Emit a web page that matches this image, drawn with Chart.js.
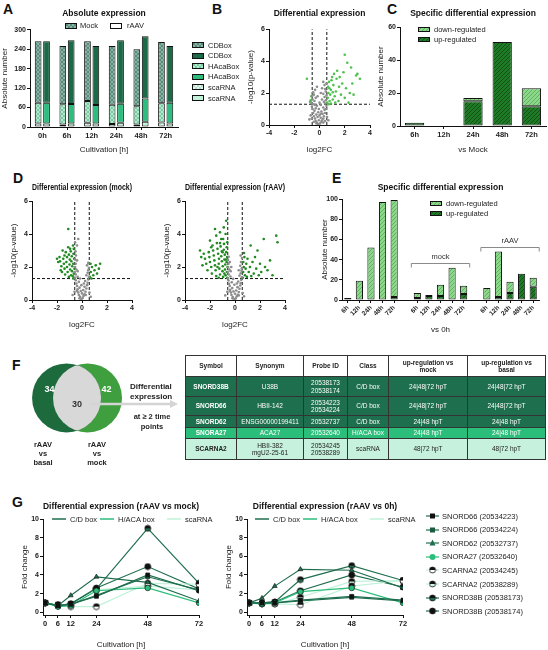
<!DOCTYPE html>
<html>
<head>
<meta charset="utf-8">
<script src="https://cdn.jsdelivr.net/npm/chart.js@4.4.1/dist/chart.umd.min.js"></script>
<style>
body{margin:0;background:#fff;font-family:"Liberation Sans",Arial,sans-serif;color:#222}
#fig{position:relative;width:548px;height:650px;overflow:hidden}
.t{position:absolute;white-space:nowrap;line-height:1}
.L{position:absolute;font-weight:bold;font-size:14px;line-height:1;color:#111}
.s7{font-size:7.5px}
.b8{font-size:8px;font-weight:bold}
canvas{position:absolute}
table{position:absolute;border-collapse:collapse;table-layout:fixed;font-size:6.5px;text-align:center}
td,th{border:1px solid #333;padding:0;line-height:1.15}
th{background:#fff;font-weight:bold;color:#222}
tr.dk td{background:#1d6f4d;color:#fff}
tr.md td{background:#2bbd7a;color:#fff}
tr.lt td{background:#c6f2dd;color:#222}
td:first-child{font-weight:bold}
</style>
</head>
<body>
<div id="fig"></div>
<script>
// ---------- data ----------
const A_TIMES = ['0h', '6h', '12h', '24h', '48h', '72h'];
const A_MOCK_SCA = [11, 8, 13, 9, 8, 14];
const A_MOCK_HACA = [64, 62, 67, 60, 56, 59];
const A_MOCK_CD = [190, 180, 185, 181, 176, 189];
const A_RAAV_SCA = [11, 11, 11, 13, 16, 11];
const A_RAAV_HACA = [64, 60, 57, 59, 72, 64];
const A_RAAV_CD = [190, 197, 182, 196, 192, 175];

const FC_CUT = 0.58;   // log2(1.5)
const P_CUT = 1.3;     // -log10(0.05)

const B_GREY = [[-0.1,0.05],[0.05,0.1],[-0.2,0.15],[0.15,0.2],[-0.3,0.25],[0.2,0.3],[-0.05,0.3],[-0.35,0.4],[0.3,0.4],[0.1,0.45],[-0.15,0.5],[-0.45,0.55],[0.35,0.55],[0.0,0.6],[-0.25,0.65],[0.25,0.7],[-0.5,0.75],[0.45,0.75],[-0.1,0.8],[0.15,0.85],[-0.4,0.9],[0.4,0.95],[-0.55,1.0],[0.5,1.0],[-0.3,1.05],[0.3,1.1],[-0.6,1.15],[0.55,1.2],[-0.2,1.2],[0.1,1.25],[-0.5,1.3],[0.45,1.35],[-0.65,1.4],[0.35,1.45],[-0.4,1.5],[0.5,1.55],[-0.55,1.6],[0.2,1.6],[-0.3,1.7],[0.4,1.75],[-0.6,1.8],[0.55,1.85],[-0.45,1.9],[0.3,1.95],[-0.5,2.05],[0.5,2.1],[-0.35,2.2],[0.45,2.25],[0.2,2.3],[-0.2,2.4],[0.4,2.5],[0.55,2.6],[0.3,2.7],[-0.05,1.0],[0.0,1.4],[-0.15,1.8],[0.1,2.0],[-0.7,0.6],[0.6,0.5],[-0.8,0.35],[0.7,0.3],[-0.25,0.1],[0.3,0.15],[-0.45,0.2],[0.45,0.25],[-0.6,0.4],[0.1,0.7],[-0.35,1.25]];
const B_GREEN = [[-0.62,1.35],[-0.7,1.55],[-0.65,1.8],[-0.75,1.45],[-1.0,2.9],[0.62,1.4],[0.65,1.7],[0.7,2.0],[0.68,2.4],[0.75,2.7],[0.8,1.5],[0.85,1.9],[0.9,2.2],[0.95,2.8],[1.0,3.0],[1.05,1.6],[1.1,2.5],[1.15,3.2],[1.2,1.8],[1.3,2.1],[1.35,2.9],[1.4,3.4],[1.5,1.5],[1.55,2.4],[1.6,3.0],[1.7,1.9],[1.8,2.6],[1.9,3.3],[2.0,4.4],[2.0,1.7],[2.1,2.3],[2.2,3.9],[2.3,1.4],[2.4,2.0],[2.6,2.6],[2.7,1.9],[2.9,3.1],[3.0,3.2],[3.2,2.9],[2.5,3.6],[0.72,1.3],[0.9,1.35],[1.25,1.4],[0.78,2.3],[1.05,2.05]];

const D_MOCK_GREY = [[-0.05,0.05],[0.05,0.12],[-0.15,0.2],[0.12,0.25],[-0.25,0.3],[0.2,0.35],[0.0,0.4],[-0.3,0.45],[0.28,0.5],[-0.1,0.55],[0.1,0.6],[-0.35,0.65],[0.35,0.7],[-0.2,0.75],[0.2,0.8],[-0.4,0.85],[0.4,0.9],[-0.05,0.9],[-0.45,1.0],[0.45,1.05],[-0.25,1.1],[0.25,1.15],[-0.5,1.2],[0.5,1.25],[-0.55,1.35],[0.55,1.4],[-0.35,1.4],[0.35,1.5],[-0.5,1.55],[0.45,1.65],[-0.58,1.7],[0.5,1.8],[-0.45,1.85],[0.55,1.95],[-0.55,2.0],[0.4,2.1],[-0.5,2.2],[-0.55,2.45],[-0.48,2.7],[-0.52,2.95],[-0.4,3.3],[-0.3,3.7],[-0.55,3.5],[0.5,2.25],[-0.6,0.5],[0.6,0.45],[-0.75,0.3],[0.7,0.2],[-0.15,1.3],[0.15,1.0],[-0.35,1.75],[-0.4,2.4],[-0.2,0.1],[0.3,0.3],[-0.4,0.55]];
const D_MOCK_GREEN = [[-0.62,1.35],[-0.65,1.6],[-0.6,1.9],[-0.7,2.2],[-0.63,2.5],[-0.68,2.8],[-0.66,3.1],[-0.75,1.45],[-0.8,1.75],[-0.78,2.05],[-0.85,2.35],[-0.82,2.65],[-0.9,2.95],[-0.88,1.5],[-0.95,1.85],[-1.0,2.15],[-0.98,2.45],[-1.05,2.75],[-1.1,3.2],[-1.05,1.4],[-1.15,1.7],[-1.2,2.0],[-1.25,2.3],[-1.2,2.6],[-1.3,2.9],[-1.35,1.55],[-1.4,1.9],[-1.45,2.2],[-1.5,2.5],[-1.55,3.0],[-1.6,1.7],[-1.65,2.05],[-1.75,2.35],[-1.8,2.6],[-1.9,2.3],[-2.0,2.5],[-1.1,4.3],[-0.72,3.3],[-0.95,3.1],[-1.4,2.7],[-0.7,1.3],[-1.7,1.8],[0.62,1.4],[0.7,1.7],[0.8,2.0],[0.68,2.2],[0.9,1.5],[1.0,1.8],[1.1,2.1],[1.2,1.6],[1.35,1.9],[1.45,2.2],[0.75,1.3]];

const D_RAAV_GREY = [[-0.05,0.05],[0.06,0.1],[-0.18,0.18],[0.14,0.22],[-0.28,0.3],[0.22,0.32],[0.0,0.38],[-0.32,0.45],[0.3,0.48],[-0.12,0.52],[0.1,0.58],[-0.38,0.62],[0.36,0.68],[-0.22,0.72],[0.2,0.78],[-0.42,0.85],[0.42,0.88],[-0.05,0.92],[-0.48,0.98],[0.46,1.02],[-0.26,1.08],[0.26,1.12],[-0.52,1.18],[0.5,1.22],[-0.56,1.32],[0.55,1.38],[-0.36,1.42],[0.36,1.48],[-0.5,1.55],[0.46,1.62],[-0.58,1.7],[0.52,1.78],[-0.46,1.85],[0.55,1.92],[-0.55,2.0],[0.42,2.08],[-0.52,2.2],[-0.56,2.42],[-0.5,2.62],[0.48,2.3],[0.56,2.55],[-0.62,0.5],[0.62,0.42],[-0.78,0.28],[0.72,0.22],[-0.15,1.28],[0.15,1.0],[-0.35,1.75],[-0.42,2.3],[-0.2,0.1],[0.3,0.28],[-0.42,0.55],[0.45,2.7],[-0.3,2.0],[0.3,1.8]];
const D_RAAV_GREEN = [[-0.62,1.35],[-0.65,1.7],[-0.6,2.0],[-0.68,2.3],[-0.63,2.6],[-0.7,2.9],[-0.66,3.2],[-0.62,3.5],[-0.75,1.5],[-0.8,1.85],[-0.78,2.15],[-0.85,2.45],[-0.82,2.75],[-0.9,3.05],[-0.88,3.4],[-0.95,1.4],[-1.0,1.75],[-0.98,2.05],[-1.05,2.35],[-1.1,2.65],[-1.05,2.95],[-1.15,3.25],[-1.1,3.7],[-1.2,1.55],[-1.25,1.9],[-1.3,2.2],[-1.28,2.5],[-1.35,2.8],[-1.4,3.1],[-1.45,3.45],[-1.5,1.45],[-1.55,1.8],[-1.6,2.1],[-1.65,2.4],[-1.7,2.7],[-1.75,3.0],[-1.8,3.3],[-1.85,1.6],[-1.9,2.0],[-2.0,2.3],[-2.05,2.6],[-2.1,2.9],[-2.2,1.8],[-2.3,2.2],[-2.4,2.5],[-2.5,2.8],[-2.7,2.6],[-2.6,2.1],[-1.2,4.1],[-0.9,4.4],[-0.7,4.8],[-1.5,3.9],[-2.0,3.6],[-1.6,4.3],[-0.75,4.0],[-0.95,3.7],[-1.3,1.35],[-1.9,3.2],[-2.8,3.0],[-0.72,2.45],[-0.85,1.6],[-1.4,2.0],[-1.0,2.9],[-1.2,3.45],[0.62,1.35],[0.65,1.7],[0.7,2.0],[0.66,2.3],[0.75,2.6],[0.8,1.5],[0.85,1.9],[0.9,2.2],[0.95,1.4],[1.0,2.5],[1.1,1.7],[1.2,2.0],[1.3,1.45],[1.4,2.3],[1.5,1.6],[1.6,2.6],[1.7,1.9],[1.8,3.0],[1.9,1.5],[2.0,2.2],[2.1,1.7],[2.3,3.7],[2.4,2.0],[2.6,1.8],[2.8,2.4],[3.0,1.5],[3.3,3.9],[3.4,3.5],[1.25,3.3],[0.72,2.85]];

const C_TIMES = ['6h', '12h', '24h', '48h', '72h'];
const C_UP = [2, 0, 15, 51, 12];
const C_DOWN = [0, 0, 2, 0, 11];

const E_LABELS = ['6h','12h','24h','48h','72h','', '6h','12h','24h','48h','72h','', '6h','12h','24h','48h','72h'];
const E_UP =   [2, 0, 0, 0, 3, null, 2, 4, 4, 0, 6, null, 0, 3, 7, 26, 13];
const E_DOWN = [0, 19, 52, 97, 96, null, 5, 1, 11, 32, 8, null, 12, 45, 11, 0, 9];
const E_GROUPS = [{from: 6, to: 10, level: 37, label: 'mock'}, {from: 12, to: 16, level: 52, label: 'rAAV'}];

const VENN_COUNTS = [34, 30, 42];

const G_HOURS = [0, 6, 12, 24, 48, 72];
const G_NAMES = ['SNORD66 (20534223)', 'SNORD66 (20534224)', 'SNORD62 (20532737)', 'SNORA27 (20532640)',
                 'SCARNA2 (20534245)', 'SCARNA2 (20538289)', 'SNORD38B (20538173)', 'SNORD38B (20538174)'];
const G_MOCK = [
  [1, 0.7, 0.9, 1.7, 4.0, 2.3],
  [1, 0.7, 0.8, 1.8, 3.8, 2.4],
  [1, 0.7, 1.8, 3.8, 3.2, 1.2],
  [1, 0.6, 0.7, 2.3, 2.6, 1.0],
  [1, 0.8, 0.6, 0.6, 3.1, 3.0],
  [1, 0.8, 0.7, 2.4, 2.8, 2.4],
  [1, 0.7, 0.9, 2.5, 9.0, 3.1],
  [1, 0.7, 0.9, 2.6, 4.9, 2.5]
];
const G_BASAL = [
  [1, 1.0, 1.0, 1.3, 1.7, 1.3],
  [1, 1.0, 1.0, 1.2, 1.6, 1.2],
  [1, 1.5, 2.8, 4.6, 4.5, 2.6],
  [1, 0.9, 1.0, 2.2, 2.6, 1.0],
  [1, 0.9, 0.9, 0.8, 2.8, 3.4],
  [1, 0.9, 0.9, 1.6, 3.3, 3.4],
  [1, 1.0, 1.1, 3.5, 5.0, 3.4],
  [1, 1.0, 1.1, 2.3, 4.0, 2.7]
];

// ---------- helpers ----------
const FONT = '"Liberation Sans", Arial, sans-serif';
Chart.defaults.font.family = FONT;
Chart.defaults.color = '#222';
const fig = document.getElementById('fig');

function mkCanvas(left, top, w, h) {
  const c = document.createElement('canvas');
  c.width = w; c.height = h;
  c.style.left = left + 'px'; c.style.top = top + 'px';
  c.style.width = w + 'px'; c.style.height = h + 'px';
  fig.appendChild(c);
  return c;
}

function text(x, y, str, cls, extra) {
  const d = document.createElement('div');
  d.className = 't ' + (cls || '');
  d.style.left = x + 'px'; d.style.top = y + 'px';
  if (extra) d.style.cssText += extra;
  d.innerHTML = str;
  fig.appendChild(d);
  return d;
}

function hatch(bg, fg, cross) {
  const c = document.createElement('canvas');
  c.width = 4; c.height = 4;
  const x = c.getContext('2d');
  x.fillStyle = bg; x.fillRect(0, 0, 4, 4);
  x.strokeStyle = fg; x.lineWidth = 0.8;
  x.beginPath(); x.moveTo(0, 4); x.lineTo(4, 0); x.stroke();
  if (cross) { x.beginPath(); x.moveTo(0, 0); x.lineTo(4, 4); x.stroke(); }
  return x.createPattern(c, 'repeat');
}

function swatch(x, y, w, h, fill) {
  const c = mkCanvas(x, y, w, h);
  const ctx = c.getContext('2d');
  ctx.fillStyle = fill; ctx.fillRect(0, 0, w, h);
  ctx.strokeStyle = '#111'; ctx.lineWidth = 1; ctx.strokeRect(0.5, 0.5, w - 1, h - 1);
}

function halfDot(top, bottom) {
  const c = document.createElement('canvas');
  c.width = 8; c.height = 8;
  const x = c.getContext('2d');
  x.fillStyle = bottom; x.beginPath(); x.arc(4, 4, 3, 0, Math.PI); x.fill();
  x.fillStyle = top; x.beginPath(); x.arc(4, 4, 3, Math.PI, 2 * Math.PI); x.fill();
  x.strokeStyle = '#111'; x.lineWidth = 0.8; x.beginPath(); x.arc(4, 4, 3, 0, 2 * Math.PI); x.stroke();
  return c;
}

function axis(o) {
  const a = {
    border: {color: '#111', width: 1},
    grid: {drawOnChartArea: false, color: '#111', tickLength: 3, offset: false},
    ticks: Object.assign({font: {size: 7, weight: 'bold'}, color: '#222', padding: 1}, o.ticks || {}),
    title: o.title ? {display: true, text: o.title, font: {size: 8}, color: '#222', padding: 0} : {display: false}
  };
  ['type', 'min', 'max', 'stacked', 'reverse', 'display'].forEach(k => { if (o[k] !== undefined) a[k] = o[k]; });
  if (o.tickColor) a.grid.tickColor = o.tickColor;
  if (o.w) a.afterFit = s => { s.width = o.w; };
  if (o.h) a.afterFit = s => { s.height = o.h; };
  if (o.values) a.afterBuildTicks = s => { s.ticks = o.values.map(v => ({value: v})); };
  return a;
}

function title(str, pb) {
  return {display: true, text: str, fullSize: false, font: {size: 8.5, weight: 'bold'}, color: '#111', padding: {top: 0, bottom: pb}};
}

function base(pad, ttl) {
  return {
    responsive: false, animation: false, devicePixelRatio: 1,
    layout: {padding: pad},
    plugins: {legend: {display: false}, tooltip: {enabled: false}, title: ttl}
  };
}

const pts = arr => arr.map(p => ({x: p[0], y: p[1]}));

// ---------- panel letters ----------
[['A', 3, 2], ['B', 212, 2], ['C', 387, 2], ['D', 13, 171], ['E', 332, 171], ['F', 12, 358], ['G', 12, 495]]
  .forEach(l => text(l[1], l[2], l[0], 'L'));

// ---------- A ----------
const COL_CD_M = hatch('#86b3a3', '#4f7f6f', true);
const COL_CD_R = '#1b6b48';
const COL_HA_M = hatch('#aeeccd', '#6dbf98', true);
const COL_HA_R = '#2dbd7e';
const COL_SC_M = hatch('#e2f6ec', '#a9d8c1', true);
const COL_SC_R = '#c2f1da';
const barDs = (data, color, stack) => ({data, backgroundColor: color, borderColor: '#111', borderWidth: 1,
  stack, categoryPercentage: 0.68, barPercentage: 0.8, borderSkipped: false});
new Chart(mkCanvas(0, 0, 185, 155), {
  type: 'bar',
  data: {
    labels: A_TIMES,
    datasets: [
      barDs(A_MOCK_SCA, COL_SC_M, 'm'), barDs(A_MOCK_HACA, COL_HA_M, 'm'), barDs(A_MOCK_CD, COL_CD_M, 'm'),
      barDs(A_RAAV_SCA, COL_SC_R, 'r'), barDs(A_RAAV_HACA, COL_HA_R, 'r'), barDs(A_RAAV_CD, COL_CD_R, 'r')
    ]
  },
  options: Object.assign(base({top: 9, left: 0, right: 7, bottom: 0}, title('Absolute expression', 10.6)), {
    scales: {
      x: axis({stacked: true, h: 28, title: 'Cultivation [h]', ticks: {font: {size: 7.5, weight: 'bold'}}}),
      y: axis({stacked: true, min: 0, max: 300, w: 30, title: 'Absolute number', values: [0, 60, 120, 180, 240, 300]})
    }
  })
});
swatch(65, 23, 12, 6, COL_CD_M); text(80, 22, 'Mock', 's7');
swatch(110, 23, 12, 6, '#fff'); text(127, 22, 'rAAV', 's7');
[[COL_CD_M, 'CDBox'], [COL_CD_R, 'CDBox'], [COL_HA_M, 'HAcaBox'], [COL_HA_R, 'HAcaBox'], [COL_SC_M, 'scaRNA'], [COL_SC_R, 'scaRNA']]
  .forEach((e, i) => { const y = 42 + i * 10.6; swatch(192, y, 12, 6, e[0]); text(208, y - 0.5, e[1], 's7'); });

// ---------- volcano helper ----------
function volcano(canvas, grey, green, greenCol, ttl, pad, titlePad) {
  return new Chart(canvas, {
    type: 'scatter',
    data: {
      datasets: [
        {data: pts(grey), pointRadius: 1.3, pointBorderWidth: 0, backgroundColor: '#8d8d8d'},
        {data: pts(green), pointRadius: 1.3, pointBorderWidth: 0, backgroundColor: greenCol},
        {type: 'line', data: [{x: -FC_CUT, y: 0}, {x: -FC_CUT, y: 6}], borderColor: '#111', borderWidth: 1, borderDash: [3, 2], pointRadius: 0},
        {type: 'line', data: [{x: FC_CUT, y: 0}, {x: FC_CUT, y: 6}], borderColor: '#111', borderWidth: 1, borderDash: [3, 2], pointRadius: 0},
        {type: 'line', data: [{x: -4, y: P_CUT}, {x: 4, y: P_CUT}], borderColor: '#111', borderWidth: 1, borderDash: [3, 2], pointRadius: 0}
      ]
    },
    options: Object.assign(base(pad, title(ttl, titlePad)), {
      scales: {
        x: axis({type: 'linear', min: -4, max: 4, h: 30, title: 'log2FC', values: [-4, -2, 0, 2, 4]}),
        y: axis({type: 'linear', min: 0, max: 6, w: 23, title: '-log10(p-value)', values: [0, 2, 4, 6]})
      }
    })
  });
}

// ---------- B ----------
volcano(mkCanvas(190, 0, 185, 155), B_GREY, B_GREEN, '#4fc24f', 'Differential expression', {top: 9, left: 56, right: 5, bottom: 0}, 10);

// ---------- C ----------
const COL_DOWN = hatch('#8bd88b', '#55a855');
const COL_UP = hatch('#1f7a25', '#0d4712');
const stackDs = (data, color) => ({data, backgroundColor: color, borderColor: '#111', borderWidth: 1,
  categoryPercentage: 1, barPercentage: 0.66, borderSkipped: false});
new Chart(mkCanvas(370, 0, 178, 155), {
  type: 'bar',
  data: {labels: C_TIMES, datasets: [stackDs(C_UP, COL_UP), stackDs(C_DOWN, COL_DOWN)]},
  options: Object.assign(base({top: 9, left: 6, right: 2, bottom: 0}, title('Specific differential expression', 8)), {
    scales: {
      x: axis({stacked: true, h: 29, title: 'vs Mock', ticks: {font: {size: 7.5, weight: 'bold'}}}),
      y: axis({stacked: true, min: 0, max: 60, w: 24, title: 'Absolute number', values: [0, 20, 40, 60]})
    }
  })
});
swatch(418, 27, 12, 5, COL_DOWN); text(434, 25.5, 'down-regulated', 's7');
swatch(418, 37, 12, 5, COL_UP); text(434, 35.5, 'up-regulated', 's7');

// ---------- D ----------
volcano(mkCanvas(0, 175, 160, 155), D_MOCK_GREY, D_MOCK_GREEN, '#228a22', 'Differential expression (mock)', {top: 8, left: 9, right: 28, bottom: 0}, 7.8);
volcano(mkCanvas(150, 175, 160, 155), D_RAAV_GREY, D_RAAV_GREEN, '#228a22', 'Differential expression (rAAV)', {top: 8, left: 12, right: 25, bottom: 0}, 7.8);

// ---------- E ----------
const bracketPlugin = {
  id: 'brackets',
  afterDatasetsDraw(chart) {
    const {ctx, scales: {x, y}} = chart;
    ctx.save();
    ctx.strokeStyle = '#8a8a8a'; ctx.lineWidth = 1;
    ctx.fillStyle = '#333'; ctx.font = '7.5px ' + FONT; ctx.textAlign = 'center';
    E_GROUPS.forEach(g => {
      const x0 = x.getPixelForValue(g.from) - 6, x1 = x.getPixelForValue(g.to) + 6, yy = Math.round(y.getPixelForValue(g.level)) + 0.5;
      ctx.beginPath(); ctx.moveTo(x0, yy + 4); ctx.lineTo(x0, yy); ctx.lineTo(x1, yy); ctx.lineTo(x1, yy + 4); ctx.stroke();
      ctx.fillText(g.label, (x0 + x1) / 2, yy - 5);
    });
    ctx.restore();
  }
};
new Chart(mkCanvas(318, 175, 230, 160), {
  type: 'bar',
  data: {labels: E_LABELS, datasets: [
    Object.assign(stackDs(E_UP, COL_UP), {barPercentage: 0.62}),
    Object.assign(stackDs(E_DOWN, COL_DOWN), {barPercentage: 0.62})
  ]},
  options: Object.assign(base({top: 8, left: 2, right: 9, bottom: 0}, title('Specific differential expression', 5.8)), {
    scales: {
      x: axis({stacked: true, h: 35, title: 'vs 0h', tickColor: c => E_LABELS[c.index] ? '#111' : 'rgba(0,0,0,0)',
        ticks: {font: {size: 6.5, weight: 'bold'}, autoSkip: false, maxRotation: 45, minRotation: 45}}),
      y: axis({stacked: true, min: 0, max: 100, w: 22, title: 'Absolute number', values: [0, 20, 40, 60, 80, 100]})
    }
  }),
  plugins: [bracketPlugin]
});
swatch(430, 201, 12, 5, COL_DOWN); text(446, 199.5, 'down-regulated', 's7');
swatch(430, 211, 12, 5, COL_UP); text(446, 209.5, 'up-regulated', 's7');

// ---------- F: Venn ----------
const vennPlugin = {
  id: 'venn',
  afterDatasetsDraw(chart) {
    const ctx = chart.ctx;
    const a = chart.getDatasetMeta(0).data[0], b = chart.getDatasetMeta(1).data[0];
    const r = a.options.radius;
    ctx.save();
    ctx.beginPath(); ctx.arc(a.x, a.y, r, 0, 2 * Math.PI); ctx.clip();
    ctx.beginPath(); ctx.arc(b.x, b.y, r, 0, 2 * Math.PI); ctx.fillStyle = '#d8d8d8'; ctx.fill();
    ctx.restore();
    ctx.save();
    ctx.strokeStyle = '#d4d4d4'; ctx.lineWidth = 2.5; ctx.fillStyle = '#d4d4d4';
    const ay = a.y + 6;
    ctx.beginPath(); ctx.moveTo(b.x + 2, ay); ctx.lineTo(172, ay); ctx.stroke();
    ctx.beginPath(); ctx.moveTo(178, ay); ctx.lineTo(170, ay - 4); ctx.lineTo(170, ay + 4); ctx.closePath(); ctx.fill();
    ctx.font = 'bold 9px ' + FONT; ctx.textAlign = 'center'; ctx.textBaseline = 'middle';
    ctx.fillStyle = '#fff';
    ctx.fillText(VENN_COUNTS[0], a.x - 17, a.y - 8);
    ctx.fillText(VENN_COUNTS[2], b.x + 19, b.y - 8);
    ctx.fillStyle = '#333';
    ctx.fillText(VENN_COUNTS[1], (a.x + b.x) / 2, a.y + 7);
    ctx.restore();
  }
};
new Chart(mkCanvas(0, 355, 180, 85), {
  type: 'bubble',
  data: {datasets: [
    {data: [{x: 52, y: 45, r: 34.5}], backgroundColor: '#1d6b3c', borderWidth: 0, clip: false},
    {data: [{x: 86, y: 45, r: 34.5}], backgroundColor: '#3f9f3f', borderWidth: 0, clip: false}
  ]},
  options: Object.assign(base(0, {display: false}), {
    clip: false,
    scales: {x: {type: 'linear', min: 0, max: 180, display: false}, y: {type: 'linear', min: 0, max: 85, reverse: true, display: false}}
  }),
  plugins: [vennPlugin]
});
text(130, 382, 'Differential<br>expression', 'b8', 'line-height:10px');
text(130, 412, 'at ≥ 2 time<br>points', 'b8', 'font-size:7.5px;line-height:9.5px;text-align:center;width:44px');
text(29, 440, 'rAAV<br>vs<br>basal', 'b8', 'font-size:7.5px;line-height:9px;text-align:center;width:28px');
text(83, 440, 'rAAV<br>vs<br>mock', 'b8', 'font-size:7.5px;line-height:9px;text-align:center;width:28px');

// ---------- F: table ----------
const tbl = document.createElement('table');
tbl.style.left = '185px'; tbl.style.top = '355px'; tbl.style.width = '360px';
tbl.innerHTML = `
<colgroup><col style="width:51px"><col style="width:67px"><col style="width:44px"><col style="width:41px"><col style="width:79px"><col style="width:78px"></colgroup>
<tr style="height:21px"><th>Symbol</th><th>Synonym</th><th>Probe ID</th><th>Class</th><th>up-regulation vs<br>mock</th><th>up-regulation vs<br>basal</th></tr>
<tr class="dk" style="height:20px"><td>SNORD38B</td><td>U38B</td><td>20538173<br>20538174</td><td>C/D box</td><td>24|48|72 hpT</td><td>24|48|72 hpT</td></tr>
<tr class="dk" style="height:19px"><td>SNORD66</td><td>HBII-142</td><td>20534223<br>20534224</td><td>C/D box</td><td>24|48|72 hpT</td><td>24|48|72 hpT</td></tr>
<tr class="dk" style="height:12px"><td>SNORD62</td><td>ENSG00000199411</td><td>20532737</td><td>C/D box</td><td>24|48 hpT</td><td>24|48 hpT</td></tr>
<tr class="md" style="height:11px"><td>SNORA27</td><td>ACA27</td><td>20532640</td><td>H/ACA box</td><td>24|48 hpT</td><td>24|48 hpT</td></tr>
<tr class="lt" style="height:21px"><td>SCARNA2</td><td>HBII-382<br>mgU2-25-61</td><td>20534245<br>20538289</td><td>scaRNA</td><td>48|72 hpT</td><td>48|72 hpT</td></tr>`;
fig.appendChild(tbl);

// ---------- G ----------
const C_CD = '#1f6e4e', C_HA = '#2dbd7b', C_SC = '#bff2da';
const G_STYLE = [
  {line: C_CD, style: 'rect', fill: '#111'},
  {line: C_CD, style: 'rect', fill: '#1a5a3f'},
  {line: C_CD, style: 'triangle', fill: C_CD},
  {line: C_HA, style: 'circle', fill: C_HA},
  {line: C_SC, style: halfDot('#111', '#fff')},
  {line: C_SC, style: halfDot('#111', '#d3f5e5')},
  {line: C_CD, style: halfDot('#111', '#1f6e4e')},
  {line: C_CD, style: halfDot('#111', '#111')}
];
function foldChart(canvas, series, ttl, pad) {
  return new Chart(canvas, {
    type: 'line',
    data: {datasets: series.map((s, i) => ({
      data: s.map((v, j) => ({x: G_HOURS[j], y: v})),
      borderColor: G_STYLE[i].line, borderWidth: 1.2,
      pointStyle: G_STYLE[i].style, pointRadius: 2.8,
      pointBackgroundColor: G_STYLE[i].fill || '#111', pointBorderColor: '#111', pointBorderWidth: 0.6
    }))},
    options: Object.assign(base(pad, title(ttl, 6.8)), {
      scales: {
        x: axis({type: 'linear', min: -1, max: 72, h: 35, title: 'Cultivation [h]', values: G_HOURS, ticks: {font: {size: 7.5, weight: 'bold'}}}),
        y: axis({type: 'linear', min: -0.3, max: 10, w: 23, title: 'Fold change', values: [0, 2, 4, 6, 8, 10]})
      }
    })
  });
}
foldChart(mkCanvas(0, 498, 215, 152), G_MOCK, 'Differential expression (rAAV vs mock)', {top: 4, left: 20, right: 16, bottom: 0});
foldChart(mkCanvas(215, 498, 195, 152), G_BASAL, 'Differential expression (rAAV vs 0h)', {top: 4, left: 9, right: 7, bottom: 0});

function classLegend(x0) {
  [[C_CD, 'C/D box', 0], [C_HA, 'H/ACA box', 48], [C_SC, 'scaRNA', 115]].forEach(e => {
    const c = mkCanvas(x0 + e[2], 516, 14, 6);
    const ctx = c.getContext('2d');
    ctx.strokeStyle = e[0]; ctx.lineWidth = 1.5; ctx.beginPath(); ctx.moveTo(0, 3); ctx.lineTo(14, 3); ctx.stroke();
    text(x0 + e[2] + 18, 515.5, e[1], 's7');
  });
}
classLegend(52);
classLegend(255);

G_NAMES.forEach((n, i) => {
  const y = 516 + i * 13.6;
  const c = mkCanvas(426, y - 4, 13, 8);
  const ctx = c.getContext('2d');
  const st = G_STYLE[i];
  ctx.strokeStyle = st.line; ctx.lineWidth = 1.2; ctx.beginPath(); ctx.moveTo(0, 4); ctx.lineTo(13, 4); ctx.stroke();
  if (typeof st.style !== 'string') ctx.drawImage(st.style, 2.5, 0);
  else {
    ctx.fillStyle = st.fill; ctx.beginPath();
    if (st.style === 'rect') ctx.rect(4, 1.5, 5, 5);
    else if (st.style === 'triangle') { ctx.moveTo(6.5, 0.5); ctx.lineTo(9.5, 6.5); ctx.lineTo(3.5, 6.5); ctx.closePath(); }
    else ctx.arc(6.5, 4, 3, 0, 2 * Math.PI);
    ctx.fill();
  }
  text(442, y - 3.5, n, 's7');
});
</script>
</body>
</html>
